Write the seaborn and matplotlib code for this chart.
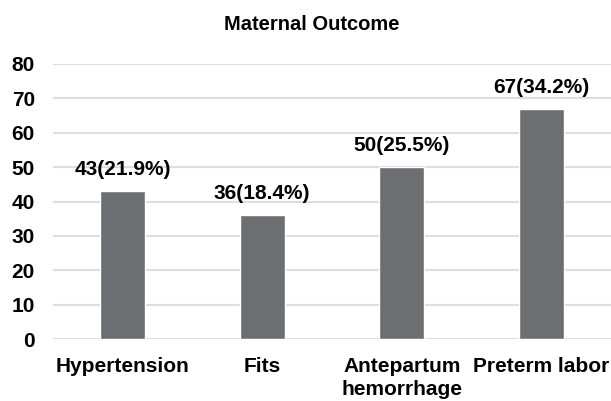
import matplotlib
matplotlib.use("Agg")
import matplotlib.pyplot as plt
import seaborn as sns
import pandas as pd

categories = ["Hypertension", "Fits", "Antepartum\nhemorrhage", "Preterm labor"]
counts = [43, 36, 50, 67]
percents = [21.9, 18.4, 25.5, 34.2]
yticks = [0, 10, 20, 30, 40, 50, 60, 70, 80]

sns.set_theme(style="white")
plt.rcParams["font.family"] = ["Liberation Sans", "DejaVu Sans"]

df = pd.DataFrame({"category": categories, "count": counts})

fig = plt.figure(figsize=(6.11, 4.01), dpi=100)
ax = fig.add_axes([0.0867, 0.1546, 0.9133, 0.6858])

sns.barplot(data=df, x="category", y="count", color="#6d6e72", width=0.32,
            saturation=1, ax=ax, zorder=3)

ax.set_ylim(0, 80)
ax.set_yticks(yticks)
ax.grid(axis="y", color="#dedede", linewidth=1.5, zorder=0)
ax.grid(axis="x", visible=False)
for s in ax.spines.values():
    s.set_visible(False)
ax.set_xlabel("")
ax.set_ylabel("")
ax.tick_params(axis="both", length=0, labelsize=15)
ax.tick_params(axis="y", pad=13)
ax.tick_params(axis="x", pad=13)
for lbl in ax.get_xticklabels() + ax.get_yticklabels():
    lbl.set_fontweight("bold")
    lbl.set_color("#000000")
for lbl in ax.get_xticklabels():
    lbl.set_linespacing(1.25)

for i, (c, p) in enumerate(zip(counts, percents)):
    ax.annotate(f"{c}({p}%)", xy=(i, c), xytext=(0, 8.5), textcoords="offset points",
                ha="center", va="bottom", fontsize=15, fontweight="bold",
                color="#000000")

fig.text(0.51, 0.94, "Maternal Outcome", ha="center", va="center",
         fontsize=14.5, fontweight="bold", color="#000000")

fig.savefig("out.png", dpi=100, facecolor="white")
